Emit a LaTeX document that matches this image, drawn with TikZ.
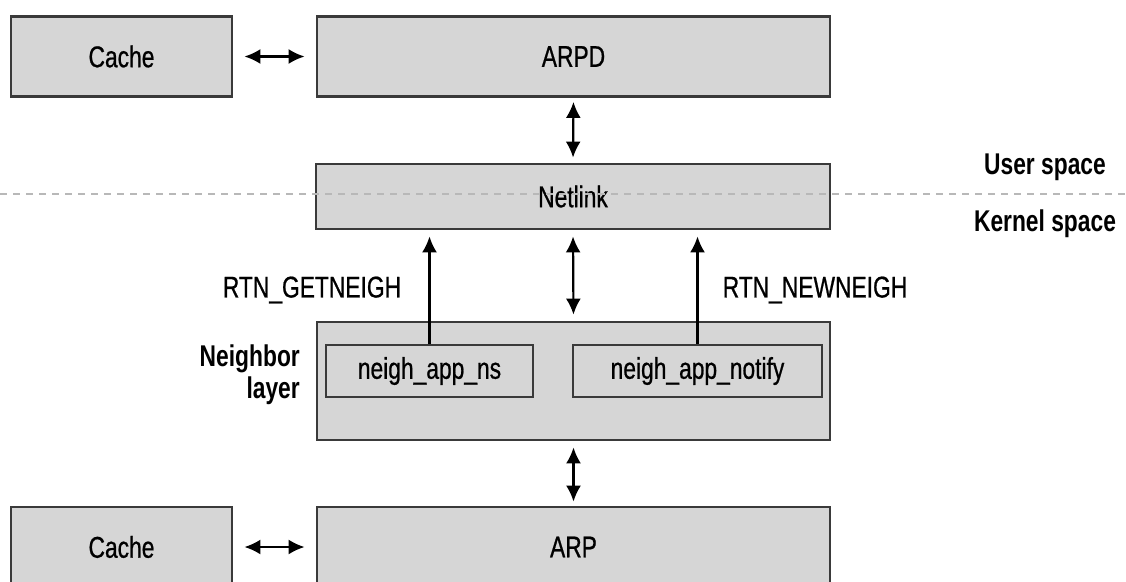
\documentclass[tikz,border=0pt]{standalone}
\usepackage{fontspec}
\setmainfont{Liberation Sans}[FakeStretch=0.76,UprightFeatures={FakeBold=0.7}]
\usetikzlibrary{arrows.meta}
\definecolor{boxfill}{HTML}{D6D6D6}
\definecolor{boxline}{HTML}{3A3A3A}
\definecolor{dashcol}{HTML}{B8B8B8}
\begin{document}
\begin{tikzpicture}[x=1pt,y=-1pt,
  blk/.style={draw=boxline,line width=2.8pt,fill=boxfill,inner sep=0pt,
    font=\fontsize{30}{34}\selectfont},
  lbl/.style={inner sep=0pt,font=\fontsize{30}{34}\selectfont},
  conn/.style={line width=2.2pt,-{Latex[length=16pt,width=15pt]}},
  bconn/.style={line width=2.2pt,{Latex[length=16pt,width=15pt]}-{Latex[length=16pt,width=15pt]}}]
\useasboundingbox (0,0) rectangle (1126,581);
% boxes
\node[blk,minimum width=221pt,minimum height=80pt] (cache1) at (121.5,56.5) {Cache};
\node[blk,minimum width=513pt,minimum height=80pt] (arpd) at (573.5,56.5) {ARPD};
\node[blk,minimum width=514pt,minimum height=65pt] (netlink) at (573,196.5) {Netlink};
\node[blk,minimum width=513pt,minimum height=118pt] (neigh) at (573.5,381) {};
\node[blk,minimum width=207pt,minimum height=52pt] (ns) at (429.5,371) {neigh\_app\_ns};
\node[blk,minimum width=249pt,minimum height=52pt] (notify) at (697.5,371) {neigh\_app\_notify};
\node[blk,minimum width=221pt,minimum height=80pt] (cache2) at (121.5,547) {Cache};
\node[blk,minimum width=513pt,minimum height=80pt] (arp) at (573.5,547) {ARP};
% dashed separator
\coordinate (dl) at (0,194);
\coordinate (dr) at (1126,194);
\draw[dashcol,line width=1.3pt,dash pattern=on 7pt off 6pt] (dl) -- (dr);
% labels
\node[lbl,font=\fontsize{30}{34}\selectfont\bfseries] (user) at (1045,167) {User space};
\node[lbl,font=\fontsize{30}{34}\selectfont\bfseries] (kernel) at (1045,224) {Kernel space};
\node[lbl,anchor=east,align=right,font=\fontsize{30}{32}\selectfont\bfseries] (nl) at (300,375) {Neighbor\\layer};
\node[lbl] (get) at (312,290) {RTN\_GETNEIGH};
\node[lbl] (new) at (815,290) {RTN\_NEWNEIGH};
% connectors
\draw[bconn,shorten <=11pt,shorten >=11pt] (cache1.east) -- (arpd.west);
\draw[bconn,shorten <=11pt,shorten >=11pt] (cache2.east |- arp.west) -- (arp.west);
\draw[bconn,shorten <=4pt,shorten >=5pt] (arpd.south) -- (netlink.north);
\draw[bconn,shorten <=6pt,shorten >=6pt] (netlink.south) -- (neigh.north);
\draw[bconn,shorten <=6pt,shorten >=4pt] (neigh.south) -- (arp.north);
\draw[conn,shorten >=6pt] (ns.north) -- (ns.north |- netlink.south);
\draw[conn,shorten >=6pt] (notify.north) -- (notify.north |- netlink.south);
\end{tikzpicture}
\end{document}
